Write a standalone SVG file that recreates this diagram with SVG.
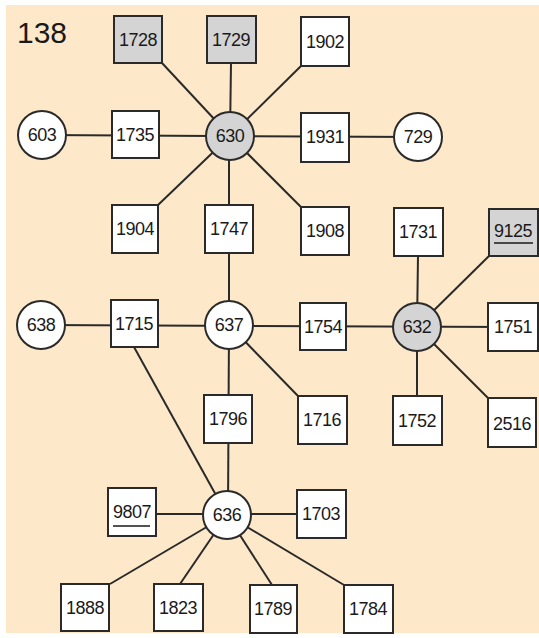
<svg xmlns="http://www.w3.org/2000/svg" width="539" height="638" viewBox="0 0 539 638">
<style>
.bg{fill:#fde9c9}
.b{fill:#ffffff;stroke:#2a2a2a;stroke-width:2}
.g{fill:#d4d4d4;stroke:#2a2a2a;stroke-width:2}
.e line{stroke:#2a2a2a;stroke-width:2}
text{font-family:"Liberation Sans",Arial,sans-serif;font-size:18px;letter-spacing:-0.5px;fill:#1a1a1a;text-anchor:middle;dominant-baseline:central}
.u{stroke:#1a1a1a;stroke-width:1.3}
</style>
<rect width="539" height="638" fill="#ffffff"/>
<rect class="bg" x="6" y="5" width="533" height="628"/>
<text x="42" y="32" style="font-size:30px;letter-spacing:0">138</text>
<g class="e">
<line x1="162" y1="63" x2="230" y2="136"/>
<line x1="231" y1="63" x2="230" y2="136"/>
<line x1="301" y1="66" x2="230" y2="136"/>
<line x1="42" y1="135" x2="418" y2="137"/>
<line x1="158" y1="205" x2="230" y2="136"/>
<line x1="229" y1="136" x2="229" y2="325"/>
<line x1="301" y1="207" x2="230" y2="136"/>
<line x1="41" y1="325" x2="513" y2="327"/>
<line x1="418" y1="256" x2="417" y2="327"/>
<line x1="489" y1="256" x2="417" y2="327"/>
<line x1="417" y1="327" x2="417" y2="396"/>
<line x1="488" y1="398" x2="417" y2="327"/>
<line x1="229" y1="325" x2="228" y2="515"/>
<line x1="298" y1="396" x2="229" y2="325"/>
<line x1="134" y1="347" x2="227" y2="515"/>
<line x1="132" y1="514" x2="321" y2="514"/>
<line x1="110" y1="584" x2="227" y2="515"/>
<line x1="180" y1="584" x2="227" y2="515"/>
<line x1="272" y1="585" x2="227" y2="515"/>
<line x1="344" y1="585" x2="227" y2="515"/>
</g>
<g id="n1728"><rect class="g" x="114" y="16" width="48" height="47"/><text x="138" y="40">1728</text></g>
<g id="n1729"><rect class="g" x="207" y="16" width="49" height="47"/><text x="231" y="40">1729</text></g>
<g id="n1902"><rect class="b" x="301" y="17" width="48" height="49"/><text x="325" y="42">1902</text></g>
<g id="n603"><circle class="b" cx="42" cy="135" r="24"/><text x="42" y="135">603</text></g>
<g id="n1735"><rect class="b" x="112" y="111" width="47" height="47"/><text x="135" y="135">1735</text></g>
<g id="n630"><circle class="g" cx="230" cy="136" r="24"/><text x="230" y="136">630</text></g>
<g id="n1931"><rect class="b" x="301" y="113" width="48" height="49"/><text x="325" y="137">1931</text></g>
<g id="n729"><circle class="b" cx="418" cy="137" r="24"/><text x="418" y="137">729</text></g>
<g id="n1904"><rect class="b" x="112" y="205" width="46" height="48"/><text x="135" y="229">1904</text></g>
<g id="n1747"><rect class="b" x="205" y="205" width="48" height="48"/><text x="229" y="229">1747</text></g>
<g id="n1908"><rect class="b" x="301" y="207" width="48" height="48"/><text x="325" y="231">1908</text></g>
<g id="n1731"><rect class="b" x="394" y="208" width="49" height="48"/><text x="418" y="232">1731</text></g>
<g id="n9125"><rect class="g" x="489" y="209" width="49" height="47"/><text x="513" y="231">9125</text><line class="u" x1="494" y1="243" x2="533" y2="243"/></g>
<g id="n638"><circle class="b" cx="41" cy="325" r="24"/><text x="41" y="325">638</text></g>
<g id="n1715"><rect class="b" x="111" y="300" width="47" height="47"/><text x="134" y="324">1715</text></g>
<g id="n637"><circle class="b" cx="229" cy="325" r="24"/><text x="229" y="325">637</text></g>
<g id="n1754"><rect class="b" x="300" y="303" width="46" height="47"/><text x="323" y="327">1754</text></g>
<g id="n632"><circle class="g" cx="417" cy="327" r="24"/><text x="417" y="327">632</text></g>
<g id="n1751"><rect class="b" x="488" y="303" width="50" height="48"/><text x="513" y="327">1751</text></g>
<g id="n1796"><rect class="b" x="204" y="395" width="48" height="48"/><text x="228" y="419">1796</text></g>
<g id="n1716"><rect class="b" x="298" y="396" width="49" height="48"/><text x="322" y="420">1716</text></g>
<g id="n1752"><rect class="b" x="393" y="396" width="49" height="49"/><text x="417" y="421">1752</text></g>
<g id="n2516"><rect class="b" x="488" y="398" width="48" height="49"/><text x="512" y="424">2516</text></g>
<g id="n9807"><rect class="b" x="108" y="488" width="48" height="48"/><text x="132" y="512">9807</text><line class="u" x1="113" y1="526" x2="150" y2="526"/></g>
<g id="n636"><circle class="b" cx="227" cy="515" r="24"/><text x="227" y="515">636</text></g>
<g id="n1703"><rect class="b" x="297" y="490" width="49" height="48"/><text x="321" y="514">1703</text></g>
<g id="n1888"><rect class="b" x="61" y="584" width="48" height="47"/><text x="85" y="608">1888</text></g>
<g id="n1823"><rect class="b" x="154" y="584" width="49" height="47"/><text x="178" y="608">1823</text></g>
<g id="n1789"><rect class="b" x="250" y="585" width="47" height="48"/><text x="273" y="609">1789</text></g>
<g id="n1784"><rect class="b" x="344" y="585" width="49" height="48"/><text x="368" y="609">1784</text></g>
</svg>
